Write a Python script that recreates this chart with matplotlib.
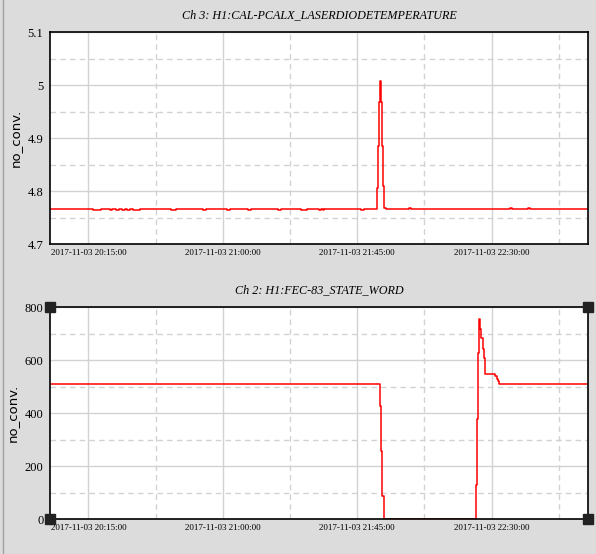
import pandas as pd
import matplotlib
matplotlib.use("Agg")
import matplotlib.pyplot as plt
import matplotlib.dates as mdates
from matplotlib.lines import Line2D
from matplotlib.ticker import MultipleLocator, FuncFormatter

day = "2017-11-03 "

# Ch 3: laser diode temperature (step data)
temp_times = ["20:02:15", "20:16:34", "20:19:09", "20:22:10", "20:23:02", "20:24:22",
              "20:25:16", "20:26:16", "20:27:11", "20:28:03", "20:28:51", "20:29:57",
              "20:32:18", "20:42:34", "20:44:26", "20:53:16", "20:54:22", "21:01:18",
              "21:02:18", "21:08:19", "21:09:25", "21:18:21", "21:19:27", "21:26:09",
              "21:28:03", "21:32:04", "21:32:50", "21:33:24", "21:33:57", "21:46:07",
              "21:47:13", "21:51:48", "21:52:08", "21:52:28", "21:52:48", "21:53:08",
              "21:53:28", "21:53:48", "21:54:08", "21:54:35", "22:02:16", "22:03:11",
              "22:36:10", "22:36:58", "22:42:05", "22:42:51", "23:02:15"]
temp_vals = [4.766, 4.764, 4.766, 4.764, 4.766, 4.764,
             4.766, 4.764, 4.766, 4.764, 4.766, 4.764,
             4.766, 4.764, 4.766, 4.764, 4.766, 4.764,
             4.766, 4.764, 4.766, 4.764, 4.766, 4.764,
             4.766, 4.764, 4.766, 4.764, 4.766, 4.764,
             4.766, 4.806, 4.886, 4.968, 5.008, 4.968,
             4.886, 4.810, 4.768, 4.766, 4.768, 4.766,
             4.768, 4.766, 4.768, 4.766, 4.766]

# Ch 2: FEC-83 state word (step data)
state_times = ["20:02:15", "21:52:40", "21:53:08", "21:53:28", "21:53:49", "22:24:47",
               "22:25:07", "22:25:21", "22:25:41", "22:26:01", "22:26:15", "22:26:35",
               "22:27:02", "22:27:22", "22:27:42", "22:31:17", "22:31:43", "22:32:03",
               "22:32:29", "23:02:15"]
state_vals = [512, 427, 259, 89, 3, 129,
              378, 626, 757, 742, 717, 685,
              641, 607, 548, 540, 531, 522,
              512, 512]

titles = ["Ch 3: H1:CAL-PCALX_LASERDIODETEMPERATURE", "Ch 2: H1:FEC-83_STATE_WORD"]
major_ticks = ["20:15:00", "21:00:00", "21:45:00", "22:30:00"]
minor_ticks = ["20:37:30", "21:22:30", "22:07:30", "22:52:30"]
x_start, x_end = "20:02:15", "23:02:15"

bg = "#dcdcdc"
grid_c = "#d2d2d2"
serif = ["Liberation Serif", "DejaVu Serif"]


def to_dt(ts):
    return pd.to_datetime([day + t for t in ts])


def style_axes(ax, title, ylim, major, minor):
    ax.set_facecolor("white")
    ax.set_xlim(to_dt([x_start])[0], to_dt([x_end])[0])
    ax.set_ylim(*ylim)
    ax.set_xticks(to_dt(major_ticks))
    ax.set_xticks(to_dt(minor_ticks), minor=True)
    ax.xaxis.set_major_formatter(mdates.DateFormatter("%Y-%m-%d %H:%M:%S"))
    ax.yaxis.set_major_locator(MultipleLocator(major))
    ax.yaxis.set_minor_locator(MultipleLocator(minor))
    ax.yaxis.set_major_formatter(FuncFormatter(lambda v, p: f"{v:g}"))
    ax.grid(True, which="major", color=grid_c, linewidth=1.0, linestyle="-")
    ax.grid(True, which="minor", color=grid_c, linewidth=1.0, linestyle=(0, (4, 3)))
    ax.set_axisbelow(True)
    ax.tick_params(which="both", length=0)
    ax.tick_params(axis="x", pad=3.5, labelsize=6.5)
    ax.tick_params(axis="y", pad=5, labelsize=9)
    for lab in ax.get_xticklabels() + ax.get_yticklabels():
        lab.set_family(serif)
    for s in ax.spines.values():
        s.set_linewidth(1.2)
        s.set_color("black")
    ax.set_ylabel("no_conv.", fontsize=9.5, family=["DejaVu Sans"], labelpad=4)
    ax.set_title(title, fontsize=8.7, family=serif, style="italic", pad=10)


fig = plt.figure(figsize=(5.96, 5.54), dpi=100, facecolor=bg)
ax1 = fig.add_axes([0.0844, 0.559, 0.902, 0.3827])
ax2 = fig.add_axes([0.0844, 0.0626, 0.902, 0.3827])

ax1.plot(to_dt(temp_times), temp_vals, color="red", lw=1.1, drawstyle="steps-post")
style_axes(ax1, titles[0], (4.7, 5.1), 0.1, 0.05)

ax2.plot(to_dt(state_times), state_vals, color="red", lw=1.1, drawstyle="steps-post")
style_axes(ax2, titles[1], (0, 800), 200, 100)

# selection handles at the corners of the lower panel
for cx, cy in [(0, 0), (0, 1), (1, 0), (1, 1)]:
    ax2.plot(cx, cy, marker="s", markersize=6.5, color="#222222",
             transform=ax2.transAxes, clip_on=False, zorder=10)

# thin panel border on the left
fig.add_artist(Line2D([0.0045, 0.0045], [0, 1], color="#a0a0a0", lw=1.0,
                      transform=fig.transFigure))

fig.savefig("out.png", dpi=100, facecolor=bg)
